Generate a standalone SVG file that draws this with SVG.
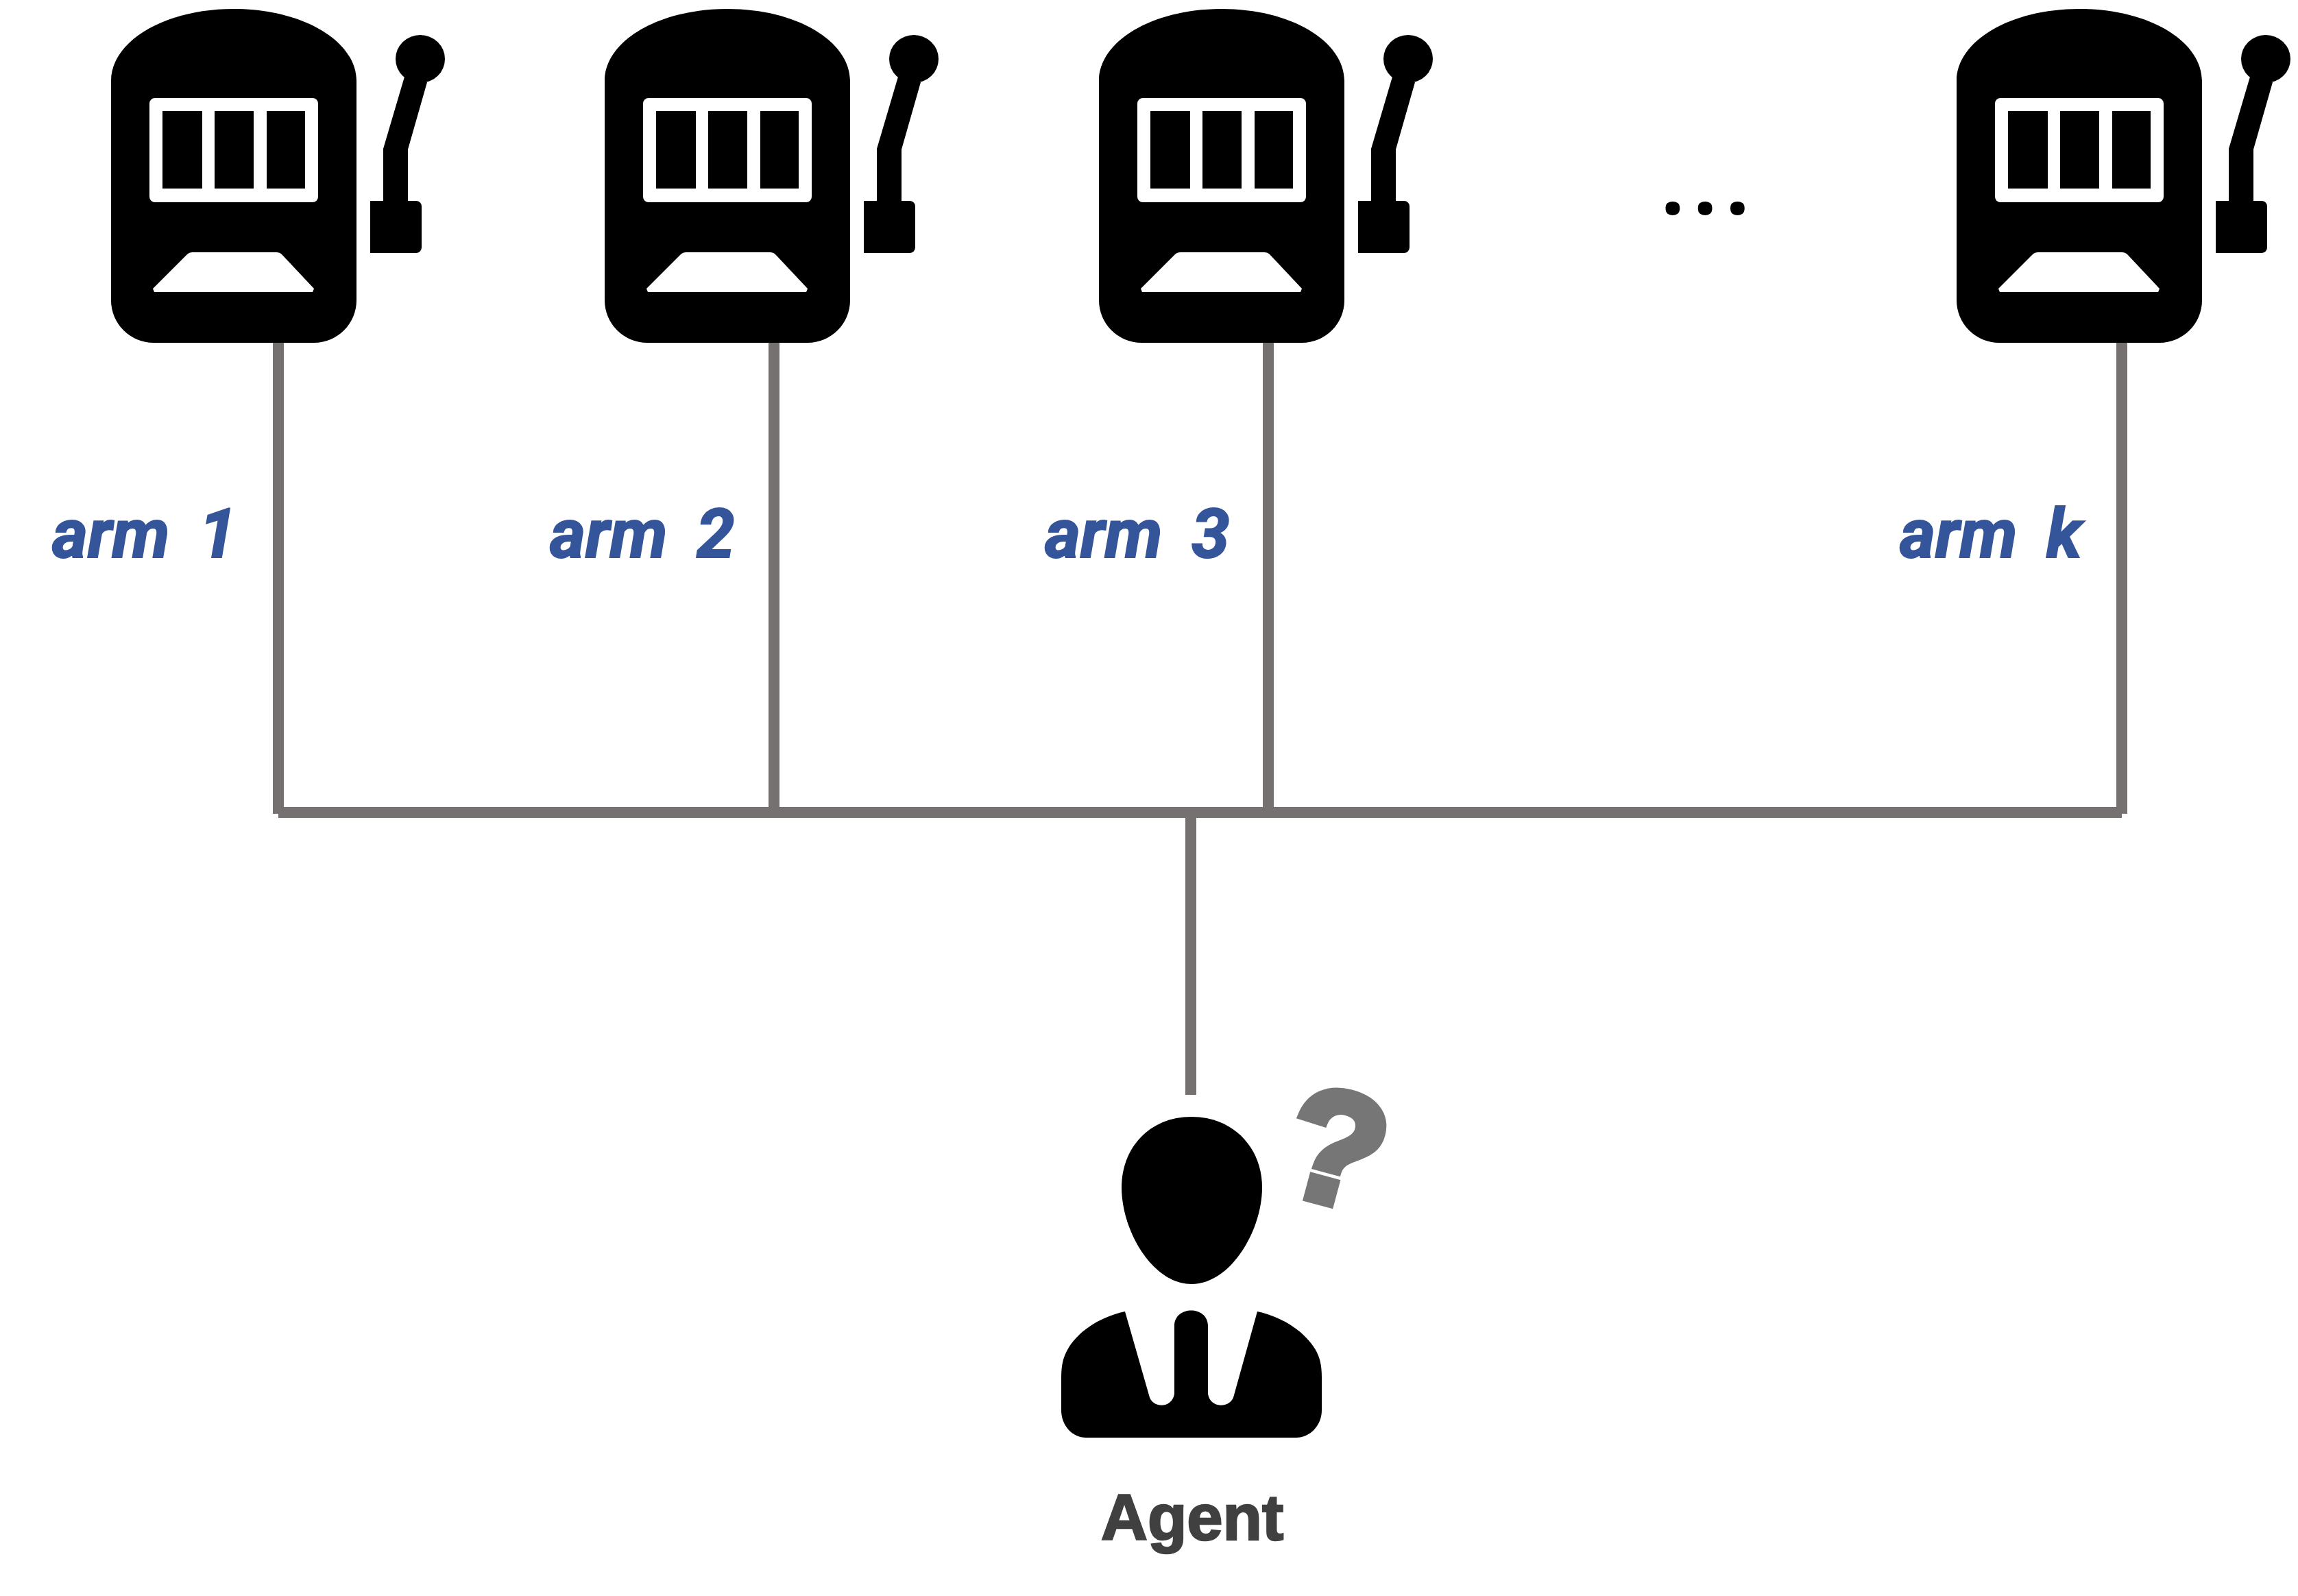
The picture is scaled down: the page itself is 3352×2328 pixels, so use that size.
<svg xmlns="http://www.w3.org/2000/svg" xmlns:xlink="http://www.w3.org/1999/xlink" width="3352" height="2328" viewBox="0 0 3352 2328">
<style>
.conn{stroke:#767171;stroke-width:16;fill:none}
.arm{font-family:Roboto,"Liberation Sans",sans-serif;font-weight:700;font-style:italic;font-size:100px;fill:#35559a;stroke:#35559a;stroke-width:2px;word-spacing:18px}
.agent{font-family:"Liberation Sans",Arial,sans-serif;font-weight:700;font-size:94px;fill:#404040;stroke:#404040;stroke-width:2.5px}
.q{font-family:"Liberation Sans",Arial,sans-serif;font-weight:700;font-size:232px;fill:#767676;stroke:#767676;stroke-width:13px}
.dots{font-family:"Noto Sans","Open Sans",sans-serif;font-weight:700;font-size:120px;fill:#000;letter-spacing:13.5px}
</style>
<defs>
<g id="slot">
<path fill-rule="evenodd" d="M162 118C162 60 240 13 341 13C442 13 520 60 520 118V438A62 62 0 0 1 458 500H224A62 62 0 0 1 162 438ZM226 143A8 8 0 0 0 218 151V287A8 8 0 0 0 226 295H456A8 8 0 0 0 464 287V151A8 8 0 0 0 456 143ZM237 162H295V275H237ZM313 162H370V275H313ZM389 162H445V275H389ZM281 368H403Q408 368 411 371L458 421L456 426H225L223 421L273 371Q276 368 281 368Z"/>
<path d="M590 112L623 120L595 218V293H607A8 8 0 0 1 615 301V361A8 8 0 0 1 607 369H540V293H559V217Z"/>
<ellipse cx="613" cy="86" rx="36" ry="35"/>
</g>
</defs>
<rect width="3352" height="2328" fill="#fff"/>
<g id="connectors">
<line class="conn" x1="406" y1="500" x2="406" y2="1187"/>
<line class="conn" x1="1129" y1="500" x2="1129" y2="1187"/>
<line class="conn" x1="1850" y1="500" x2="1850" y2="1187"/>
<line class="conn" x1="3095" y1="500" x2="3095" y2="1187"/>
<line class="conn" x1="406" y1="1185" x2="3095" y2="1185"/>
<line class="conn" x1="1737" y1="1185" x2="1737" y2="1597"/>
</g>
<g id="arm1"><use xlink:href="#slot" href="#slot"/><text class="arm" x="76" y="813">arm 1</text></g>
<g id="arm2"><use xlink:href="#slot" href="#slot" x="720"/><text class="arm" x="802" y="813">arm 2</text></g>
<g id="arm3"><use xlink:href="#slot" href="#slot" x="1441"/><text class="arm" x="1524" y="813">arm 3</text></g>
<g id="dots"><text class="dots" x="2423" y="312">...</text></g>
<g id="armk"><use xlink:href="#slot" href="#slot" x="2692"/><text class="arm" x="2771" y="813">arm k</text></g>
<g id="agent">
<path d="M1738 1629C1800 1629 1841 1675 1841 1732C1841 1795 1795 1873 1738 1873C1681 1873 1636 1795 1636 1732C1636 1675 1676 1629 1738 1629Z"/>
<path d="M1641 1913L1676 2035C1680 2055 1710 2055 1713 2033V1934C1713 1904 1762 1904 1762 1934V2033C1765 2055 1796 2055 1800 2035L1834 1913C1875 1922 1905 1945 1919 1969C1925 1980 1928 1990 1928 2010V2057C1928 2080 1910 2097 1891 2097H1584C1565 2097 1548 2080 1548 2057V2010C1548 1990 1551 1980 1557 1969C1570 1945 1600 1922 1641 1913Z"/>
<text class="agent" x="1606" y="2246">Agent</text>
<text class="q" transform="translate(1860 1734) rotate(15)">?</text>
</g>
</svg>
